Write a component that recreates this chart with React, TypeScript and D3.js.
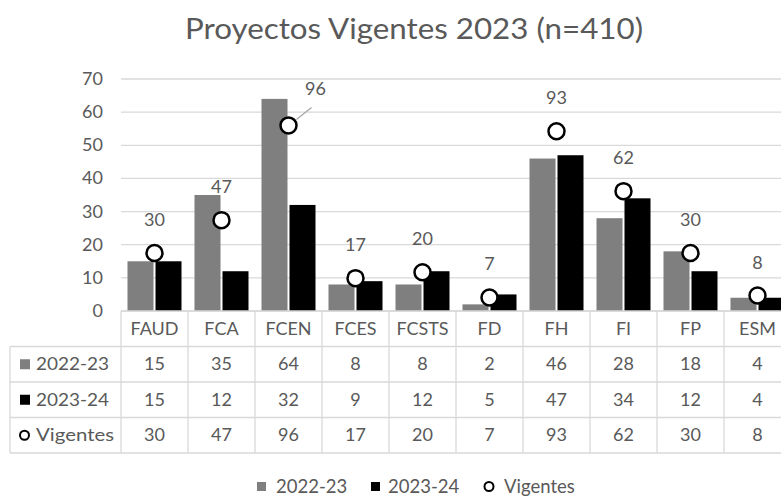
import React from "react";
import * as d3 from "d3";

const categories = ["FAUD", "FCA", "FCEN", "FCES", "FCSTS", "FD", "FH", "FI", "FP", "ESM"];
const s2223 = [15, 35, 64, 8, 8, 2, 46, 28, 18, 4];
const s2324 = [15, 12, 32, 9, 12, 5, 47, 34, 12, 4];
const vigentes = [30, 47, 96, 17, 20, 7, 93, 62, 30, 8];
const yTicks = [0, 10, 20, 30, 40, 50, 60, 70];
const seriesNames = ["2022-23", "2023-24", "Vigentes"];

const W = 781;
const H = 497;
const FONT = "Lato, 'Open Sans', sans-serif";
const TXT = "#595959";
const GRID = "#d9d9d9";
const GRAY = "#7f7f7f";

export default function App() {
  const x0 = 121;
  const colW = 67;
  const x = d3.scaleBand<string>().domain(categories).range([x0, x0 + colW * categories.length]);
  const y = d3.scaleLinear().domain([0, 70]).range([311, 79]);
  const y2 = d3.scaleLinear().domain([0, 120]).range([311, 79]);
  const barW = 26;
  const gap = 2;

  const tableTop = 311;
  const rowH = 35.5;
  const labelLeft = 10;
  const rows = [s2223, s2324, vigentes];

  const cx = (c: string) => (x(c) as number) + colW / 2;

  return (
    <div style={{ position: "fixed", left: 0, top: 0 }}>
      <svg width={W} height={H} style={{ display: "block", background: "#fff" }}>
        <text x={185} y={39} textLength={458} lengthAdjust="spacingAndGlyphs" fontFamily={FONT} fontSize={28} fill={TXT}>
          Proyectos Vigentes 2023 (n=410)
        </text>
        {/* gridlines */}
        {yTicks.map((t) => (
          <g key={t}>
            <line x1={x0} x2={W} y1={y(t)} y2={y(t)} stroke={GRID} strokeWidth={1.3} />
            <text x={103} y={y(t) + 6} textAnchor="end" fontFamily={FONT} fontSize={18} fill={TXT}>
              {t}
            </text>
          </g>
        ))}
        {/* bars */}
        {categories.map((c, i) => (
          <g key={c}>
            <rect x={cx(c) - gap / 2 - barW} y={y(s2223[i])} width={barW} height={y(0) - y(s2223[i])} fill={GRAY} />
            <rect x={cx(c) + gap / 2} y={y(s2324[i])} width={barW} height={y(0) - y(s2324[i])} fill="#000" />
          </g>
        ))}
        {/* vigentes markers */}
        {categories.map((c, i) => {
          const py = y2(vigentes[i]);
          const moved = c === "FCEN";
          const lx = moved ? cx(c) + 27 : cx(c);
          const ly = moved ? py - 30 : py - 27;
          return (
            <g key={c}>
              {moved && (
                <line x1={cx(c) + 8} y1={py - 6} x2={cx(c) + 23} y2={py - 18} stroke="#a6a6a6" strokeWidth={1.3} />
              )}
              <circle cx={cx(c)} cy={py} r={8} fill="#fff" stroke="#000" strokeWidth={2.5} />
              <text x={lx} y={ly} textAnchor="middle" fontFamily={FONT} fontSize={18} fill={TXT}>
                {vigentes[i]}
              </text>
            </g>
          );
        })}
        {/* data table */}
        <g>
          <line x1={x0} x2={W} y1={tableTop} y2={tableTop} stroke={GRID} strokeWidth={1.3} />
          {[1, 2, 3, 4].map((k) => (
            <line key={k} x1={labelLeft} x2={W} y1={tableTop + k * rowH} y2={tableTop + k * rowH} stroke={GRID} strokeWidth={1.3} />
          ))}
          <line x1={labelLeft} x2={labelLeft} y1={tableTop + rowH} y2={tableTop + 4 * rowH} stroke={GRID} strokeWidth={1.3} />
          {categories.map((c) => (
            <line key={c} x1={x(c) as number} x2={x(c) as number} y1={tableTop} y2={tableTop + 4 * rowH} stroke={GRID} strokeWidth={1.3} />
          ))}
          {categories.map((c) => (
            <text key={c} x={cx(c)} y={tableTop + rowH / 2 + 6} textAnchor="middle" fontFamily={FONT} fontSize={18} fill={TXT}>
              {c}
            </text>
          ))}
          {rows.map((r, k) => (
            <g key={k}>
              {r.map((v, i) => (
                <text key={i} x={cx(categories[i])} y={tableTop + (k + 1.5) * rowH + 6} textAnchor="middle" fontFamily={FONT} fontSize={18} fill={TXT}>
                  {v}
                </text>
              ))}
              {k < 2 ? (
                <rect x={20} y={tableTop + (k + 1.5) * rowH - 5} width={10} height={10} fill={k === 0 ? GRAY : "#000"} />
              ) : (
                <circle cx={24.5} cy={tableTop + (k + 1.5) * rowH} r={4.5} fill="#fff" stroke="#000" strokeWidth={2} />
              )}
              <text x={36} y={tableTop + (k + 1.5) * rowH + 6} textLength={k < 2 ? 73 : 78} lengthAdjust="spacingAndGlyphs" fontFamily={FONT} fontSize={18} fill={TXT}>
                {seriesNames[k]}
              </text>
            </g>
          ))}
        </g>
        {/* legend */}
        <g>
          <rect x={257} y={482} width={9} height={9} fill={GRAY} />
          <text x={276} y={493} fontFamily={FONT} fontSize={18.5} fill={TXT}>{seriesNames[0]}</text>
          <rect x={371} y={482} width={9} height={9} fill="#000" />
          <text x={388} y={493} fontFamily={FONT} fontSize={18.5} fill={TXT}>{seriesNames[1]}</text>
          <circle cx={489} cy={486.5} r={4.5} fill="#fff" stroke="#000" strokeWidth={2} />
          <text x={504} y={493} fontFamily={FONT} fontSize={18.5} fill={TXT}>{seriesNames[2]}</text>
        </g>
      </svg>
    </div>
  );
}
